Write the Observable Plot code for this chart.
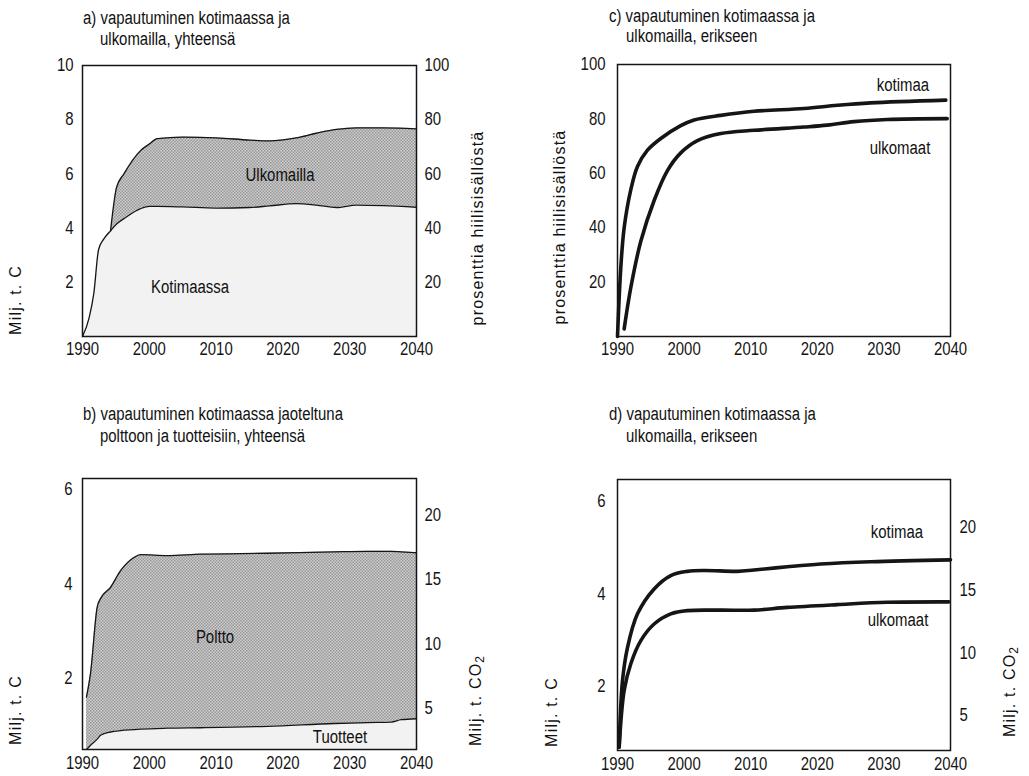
<!DOCTYPE html>
<html>
<head>
<meta charset="utf-8">
<script src="https://cdn.jsdelivr.net/npm/d3@7"></script>
<script src="https://cdn.jsdelivr.net/npm/@observablehq/plot@0.6"></script>
<style>
  html, body { margin: 0; padding: 0; background: #fff; }
  #root { position: relative; width: 1029px; height: 776px; overflow: hidden; color: #111; font-family: "Liberation Sans", Arial, sans-serif; }
  .pl { position: absolute; }
  .t { position: absolute; font-size: 18px; line-height: 20px; white-space: nowrap; transform: scaleX(0.83); transform-origin: 0 50%; }
  .lab { position: absolute; font-size: 18px; line-height: 20px; white-space: nowrap; transform: translate(-50%, -50%) scaleX(0.83); }
  .ax { position: absolute; font-size: 16px; line-height: 18px; letter-spacing: 1.2px; white-space: nowrap; transform: translate(-50%, -50%) rotate(-90deg); }
  .ax sub { font-size: 12px; vertical-align: -3px; letter-spacing: 0; }
</style>
</head>
<body>
<div id="root"></div>
<script>
// ---------- DATA ----------
const xTicks = [1990, 2000, 2010, 2020, 2030, 2040];

// a) total release, domestic and abroad (Milj. t. C)
const yearsA = [1990, 1991, 1991.7, 1992.4, 1993.2, 1994.2, 1995.1, 1996.2, 1998.7, 2000, 2001.2, 2005, 2010, 2015, 2018, 2022, 2025, 2028, 2031, 2035, 2040];
const kotimaassaA = [0, 0.7, 1.6, 3.2, 3.6, 3.9, 4.15, 4.35, 4.72, 4.8, 4.8, 4.78, 4.74, 4.76, 4.82, 4.9, 4.85, 4.76, 4.85, 4.83, 4.77];
const yhteensaA = [0, 0.7, 1.6, 3.2, 3.6, 3.9, 5.5, 6.0, 6.86, 7.1, 7.3, 7.36, 7.33, 7.25, 7.22, 7.33, 7.5, 7.64, 7.7, 7.7, 7.66];
const leftTicksA = [2, 4, 6, 8, 10];
const rightTicksA = [20, 40, 60, 80, 100]; // prosenttia

// b) domestic release split into burning and products (Milj. t. C)
const yearsB = [1990.6, 1991.2, 1992.2, 1992.7, 1994.2, 1995.7, 1997.7, 1998.7, 2002.7, 2007.7, 2017.7, 2027.7, 2032.7, 2036.2, 2037.7, 2040];
const tuotteetB = [0.5, 0.59, 0.72, 0.8, 0.87, 0.9, 0.92, 0.93, 0.95, 0.96, 0.99, 1.05, 1.07, 1.08, 1.13, 1.15];
const yhteensaB = [1.61, 2.11, 3.51, 3.69, 3.93, 4.28, 4.56, 4.62, 4.6, 4.63, 4.65, 4.68, 4.69, 4.69, 4.68, 4.66];
const leftTicksB = [2, 4, 6];
const rightTicksCO2 = [5, 10, 15, 20];
const yDomainB = [0.5, 6.23];

// c) percent of carbon content, separately
const yearsKotC = [1990, 1990.5, 1991, 1992, 1993, 1994.5, 1996.5, 1999.5, 2001.5, 2005.5, 2010.5, 2018, 2023, 2028, 2039.3];
const kotimaaC = [0, 25.5, 40, 54, 62.5, 68.5, 72.8, 77.5, 79.6, 81.3, 82.8, 83.8, 85, 85.9, 86.9];
const yearsUlkC = [1991, 1992, 1993.5, 1995.5, 1997.5, 1999.5, 2002, 2005.5, 2010.5, 2018, 2021.5, 2025.5, 2030.5, 2039.5];
const ulkomaatC = [2.8, 18, 35, 50, 61, 67.5, 72, 74.6, 75.8, 77, 77.7, 79, 79.8, 80.1];
const leftTicksC = [20, 40, 60, 80, 100];

// d) Milj. t. C, separately
const yearsKotD = [1990.25, 1990.75, 1991.5, 1993, 1995.5, 1998, 2000.5, 2003, 2008, 2010.5, 2015.5, 2020.5, 2028, 2040];
const kotimaaD = [0.68, 2.12, 2.84, 3.57, 4.11, 4.40, 4.49, 4.51, 4.49, 4.52, 4.59, 4.65, 4.70, 4.74];
const yearsUlkD = [1990.25, 1991, 1992, 1993.5, 1995.5, 1998, 2000.5, 2005.5, 2010.5, 2015.5, 2023, 2030.5, 2039.75];
const ulkomaatD = [0.68, 1.91, 2.49, 2.99, 3.35, 3.57, 3.64, 3.65, 3.65, 3.71, 3.77, 3.82, 3.83];
const leftTicksD = [2, 4, 6];
const yDomainD = [0.61, 6.48];

const C_TO_CO2 = 44 / 12;

// ---------- STYLE ----------
const FONT = "'Liberation Sans', Arial, sans-serif";
const FS = 18;          // narrow look: 18px scaled horizontally
const NARROW = 0.83;
const LIGHT = "#f2f2f2";
const DARK = "#b3b3b3";
const INK = "#151515";
const CURVE = "catmull-rom";

const root = document.getElementById("root");

function baseAxes(leftTicks, leftPad, rightTicks, rightFmt, rightPad, xPad) {
  const marks = [
    Plot.axisX({ticks: xTicks, tickSize: 0, tickPadding: xPad, tickFormat: d => String(d), label: null}),
    Plot.axisY({anchor: "left", ticks: leftTicks, tickSize: 0, tickPadding: leftPad, tickFormat: d => String(d), label: null})
  ];
  if (rightTicks) {
    marks.push(Plot.axisY({anchor: "right", ticks: rightTicks, tickSize: 0, tickPadding: rightPad, tickFormat: rightFmt, label: null}));
  }
  return marks;
}

function narrowText(svg) {
  svg.querySelectorAll("text").forEach(el => {
    const t = el.getAttribute("transform") || "";
    const x = parseFloat(el.getAttribute("x")) || 0;
    el.setAttribute("transform", `${t} translate(${x},0) scale(${NARROW},1) translate(${-x},0)`);
  });
}

let patCount = 0;
function applyChecker(svg) {
  const id = "chk" + (patCount++);
  const ns = "http://www.w3.org/2000/svg";
  const defs = document.createElementNS(ns, "defs");
  const pat = document.createElementNS(ns, "pattern");
  pat.setAttribute("id", id);
  pat.setAttribute("width", 3);
  pat.setAttribute("height", 3);
  pat.setAttribute("patternUnits", "userSpaceOnUse");
  const bg = document.createElementNS(ns, "rect");
  bg.setAttribute("width", 3); bg.setAttribute("height", 3); bg.setAttribute("fill", "#cdcdcd");
  const r1 = document.createElementNS(ns, "rect");
  r1.setAttribute("width", 1.5); r1.setAttribute("height", 1.5); r1.setAttribute("fill", "#999");
  const r2 = document.createElementNS(ns, "rect");
  r2.setAttribute("x", 1.5); r2.setAttribute("y", 1.5);
  r2.setAttribute("width", 1.5); r2.setAttribute("height", 1.5); r2.setAttribute("fill", "#999");
  pat.append(bg, r1, r2); defs.append(pat); svg.prepend(defs);
  svg.querySelectorAll(".darkarea path").forEach(p => p.setAttribute("fill", `url(#${id})`));
  svg.querySelectorAll("g.darkarea").forEach(g => g.setAttribute("fill", `url(#${id})`));
}

function place(svg, left, top) {
  narrowText(svg);
  const d = document.createElement("div");
  d.className = "pl";
  d.style.left = left + "px";
  d.style.top = top + "px";
  d.appendChild(svg);
  root.appendChild(d);
}

function commonOpts(width, height, m, yDomain) {
  return {
    width, height,
    marginLeft: m[0], marginRight: m[1], marginTop: m[2], marginBottom: m[3],
    x: {domain: [1990, 2040]},
    y: {domain: yDomain},
    style: {fontFamily: FONT, fontSize: FS + "px", color: INK, background: "transparent", overflow: "visible"}
  };
}

// ---------- PANEL A ----------
const dataA = yearsA.map((y, i) => ({year: y, kot: kotimaassaA[i], tot: yhteensaA[i]}));
const svgA = Plot.plot({
  ...commonOpts(515, 380, [82, 99, 65, 44], [0, 10]),
  marks: [
    Plot.areaY(dataA, {x: "year", y1: 0, y2: "kot", fill: LIGHT, curve: "monotone-x"}),
    Plot.areaY(dataA, {x: "year", y1: "kot", y2: "tot", fill: DARK, curve: "monotone-x", className: "darkarea"}),
    Plot.line(dataA, {x: "year", y: "kot", stroke: INK, strokeWidth: 1.3, curve: "monotone-x"}),
    Plot.line(dataA.filter(d => d.year >= 1994.2), {x: "year", y: "tot", stroke: INK, strokeWidth: 1.3, curve: "monotone-x"}),
    Plot.frame({stroke: INK, strokeWidth: 1.5}),
    ...baseAxes(leftTicksA, 9, rightTicksA.map(v => v / 10), d => String(Math.round(d * 10)), 8, 6)
  ]
});
applyChecker(svgA);
place(svgA, 0, 0);

// ---------- PANEL B ----------
const dataB = yearsB.map((y, i) => ({year: y, tuot: tuotteetB[i], tot: yhteensaB[i]}));
const svgB = Plot.plot({
  ...commonOpts(515, 396, [82, 99, 98, 27], yDomainB),
  marks: [
    Plot.areaY(dataB, {x: "year", y1: 0, y2: "tuot", fill: LIGHT, curve: "monotone-x", clip: true}),
    Plot.areaY(dataB, {x: "year", y1: "tuot", y2: "tot", fill: DARK, curve: "monotone-x", clip: true, className: "darkarea"}),
    Plot.line(dataB, {x: "year", y: "tuot", stroke: INK, strokeWidth: 1.3, curve: "monotone-x", clip: true}),
    Plot.line(dataB, {x: "year", y: "tot", stroke: INK, strokeWidth: 1.3, curve: "monotone-x"}),
    Plot.frame({stroke: INK, strokeWidth: 1.5}),
    ...baseAxes(leftTicksB, 10, rightTicksCO2.map(v => v / C_TO_CO2), d => String(Math.round(d * C_TO_CO2)), 8, 7)
  ]
});
applyChecker(svgB);
place(svgB, 0, 380);

// ---------- PANEL C ----------
const kotC = yearsKotC.map((y, i) => ({year: y, v: kotimaaC[i]}));
const ulkC = yearsUlkC.map((y, i) => ({year: y, v: ulkomaatC[i]}));
place(Plot.plot({
  ...commonOpts(514, 380, [102, 79, 64, 44], [0, 100]),
  marks: [
    Plot.frame({stroke: INK, strokeWidth: 1.5}),
    Plot.line(kotC, {x: "year", y: "v", stroke: INK, strokeWidth: 3.6, curve: CURVE}),
    Plot.line(ulkC, {x: "year", y: "v", stroke: INK, strokeWidth: 3.6, curve: CURVE}),
    ...baseAxes(leftTicksC, 12, null, null, 0, 6)
  ]
}), 515, 0);

// ---------- PANEL D ----------
const kotD = yearsKotD.map((y, i) => ({year: y, v: kotimaaD[i]}));
const ulkD = yearsUlkD.map((y, i) => ({year: y, v: ulkomaatD[i]}));
place(Plot.plot({
  ...commonOpts(514, 396, [102, 79, 99, 26], yDomainD),
  marks: [
    Plot.frame({stroke: INK, strokeWidth: 1.5}),
    Plot.line(kotD, {x: "year", y: "v", stroke: INK, strokeWidth: 3.6, curve: CURVE}),
    Plot.line(ulkD, {x: "year", y: "v", stroke: INK, strokeWidth: 3.6, curve: CURVE}),
    ...baseAxes(leftTicksD, 12, rightTicksCO2.map(v => v / C_TO_CO2), d => String(Math.round(d * C_TO_CO2)), 9, 7)
  ]
}), 515, 380);

// ---------- TEXT ----------
function addDiv(cls, html, x, y) {
  const d = document.createElement("div");
  d.className = cls;
  d.innerHTML = html;
  d.style.left = x + "px";
  d.style.top = y + "px";
  root.appendChild(d);
}
// titles
addDiv("t", "a) vapautuminen kotimaassa ja", 83, 8);
addDiv("t", "ulkomailla, yhteensä", 100, 29);
addDiv("t", "c) vapautuminen kotimaassa ja", 609, 6);
addDiv("t", "ulkomailla, erikseen", 626, 26);
addDiv("t", "b) vapautuminen kotimaassa jaoteltuna", 83, 404);
addDiv("t", "polttoon ja tuotteisiin, yhteensä", 100, 426);
addDiv("t", "d) vapautuminen kotimaassa ja", 609, 404);
addDiv("t", "ulkomailla, erikseen", 626, 426);
// axis titles
addDiv("ax", "Milj. t. C", 16, 300);
addDiv("ax", "prosenttia hiilisisällöstä", 478, 228);
addDiv("ax", "prosenttia hiilisisällöstä", 560, 227);
addDiv("ax", "Milj. t. C", 16, 710);
addDiv("ax", "Milj. t. CO<sub>2</sub>", 478, 701);
addDiv("ax", "Milj. t. C", 552, 712);
addDiv("ax", "Milj. t. CO<sub>2</sub>", 1012, 692);
// series labels
addDiv("lab", "Ulkomailla", 280, 175);
addDiv("lab", "Kotimaassa", 190, 287);
addDiv("lab", "Poltto", 215, 637);
addDiv("lab", "Tuotteet", 340, 737);
addDiv("lab", "kotimaa", 903, 85);
addDiv("lab", "ulkomaat", 900, 148);
addDiv("lab", "kotimaa", 897, 532);
addDiv("lab", "ulkomaat", 898, 620);
</script>
</body>
</html>
